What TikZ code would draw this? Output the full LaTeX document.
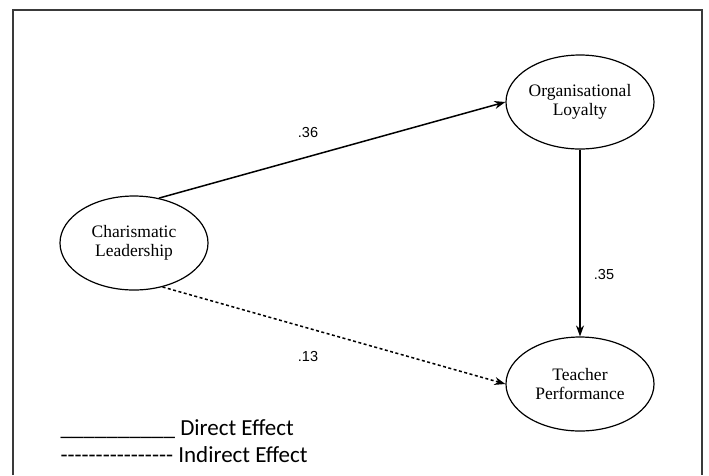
\documentclass[tikz,border=0pt]{standalone}
\usepackage{fontspec}
\setmainfont{Liberation Serif}
\newfontfamily\coeffont{Liberation Sans}
\newfontfamily\legendfont{Carlito}[Ligatures=TeXOff]
\definecolor{FrameGray}{HTML}{3A3A3A}
\usetikzlibrary{shapes.geometric, arrows.meta}

\begin{document}
\begin{tikzpicture}[x=1pt, y=-1pt,
    latent/.style={ellipse, draw, line width=1.2pt, minimum width=148pt, minimum height=94pt,
      inner sep=0pt, align=center, font=\fontsize{17.5}{19.5}\selectfont},
    effect/.style={line width=1.5pt, -{Stealth[length=11pt, width=8pt]}},
    coef/.style={font=\coeffont\fontsize{14.5}{16}\selectfont},
    legendrow/.style={anchor=base west, font=\legendfont\fontsize{23}{27}\selectfont}]
  \useasboundingbox (0,0) rectangle (709,475);
  \draw[FrameGray, line width=1.8pt] (13,475) -- (13,10) -- (702,10) -- (702,475);  % frame, open at the bottom

  % latent variables
  \node[latent] (charisma) at (134,243) {Charismatic\\Leadership};
  \node[latent] (loyalty)  at (580,102) {Organisational\\Loyalty};
  \node[latent] (teacher)  at (580,384) {Teacher\\Performance};

  % paths
  \draw[effect] (charisma.61) -- (loyalty.west);
  \draw[effect] (loyalty.south) -- (teacher.north);
  \draw[effect, dash pattern=on 3pt off 2.5pt] (charisma.-57) -- (teacher.west);

  \node[coef] (c36) at (308,133) {.36};
  \node[coef] (c35) at (604,274) {.35};
  \node[coef] (c13) at (308,356) {.13};

  % legend
  \node[legendrow] (direct)   at (57,435) {\_\_\_\_\_\_\_\_\_\_ Direct Effect};
  \node[legendrow] (indirect) at (57,462) {---------------- Indirect Effect};
\end{tikzpicture}
\end{document}
